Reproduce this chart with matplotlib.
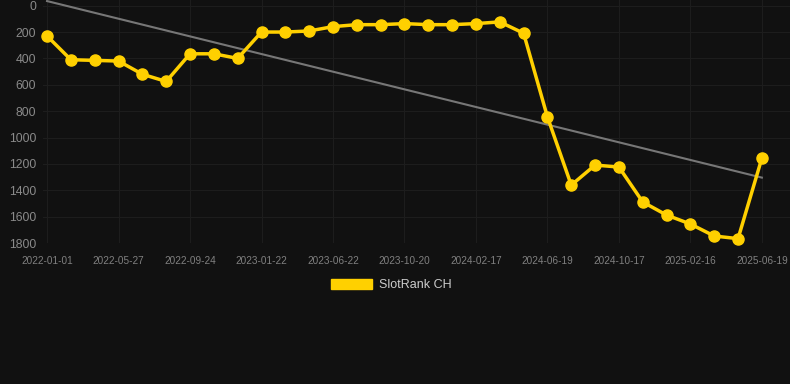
import matplotlib
matplotlib.use("Agg")
import matplotlib.pyplot as plt
import numpy as np
from matplotlib.patches import Patch

plt.rcParams['font.family'] = ['Liberation Sans', 'DejaVu Sans']

tick_labels = ["2022-01-01", "2022-05-27", "2022-09-24", "2023-01-22", "2023-06-22",
               "2023-10-20", "2024-02-17", "2024-06-19", "2024-10-17", "2025-02-16", "2025-06-19"]
ranks = [230, 410, 415, 420, 520, 575, 365, 365, 400, 200,
         200, 192, 159, 144, 144, 136, 144, 144, 136, 123,
         209, 844, 1361, 1209, 1224, 1489, 1588, 1656, 1747, 1767,
         1156]
series_name = "SlotRank CH"

bg = "#111111"
gold = "#FFD000"

fig = plt.figure(figsize=(7.9, 3.84), dpi=100, facecolor=bg)
ax = fig.add_axes([43/790, 1 - 243/384, 747/790, 243/384], facecolor=bg)

x = np.arange(len(ranks))
y = np.array(ranks, dtype=float)

# trend line (linear regression)
coef = np.polyfit(x, y, 1)
ax.plot(x, np.polyval(coef, x), color="#777777", lw=1.5, zorder=2, clip_on=False)

ax.plot(x, y, color=gold, lw=2.5, marker='o', ms=8, mfc=gold, mec=gold, zorder=3, clip_on=False)

ax.set_ylim(1800, -43)
ax.set_xlim(-0.17, 31.18)
ax.set_yticks(np.arange(0, 1801, 200))
ax.set_xticks(x[::3])
ax.set_xticklabels(tick_labels)

ax.grid(True, color="#1d1d1d", lw=0.8)
ax.set_axisbelow(True)
for s in ax.spines.values():
    s.set_visible(False)
ax.tick_params(axis='both', length=0, colors="#808080")
ax.tick_params(axis='y', labelsize=8.8, pad=5)
ax.tick_params(axis='x', labelsize=7.2, pad=9)
for lab in ax.get_yticklabels():
    lab.set_color("#8a8a8a")

handle = Patch(facecolor=gold, edgecolor=gold)
fig.legend([handle], [series_name], loc='center', bbox_to_anchor=(391/790, 1 - 285/384),
           frameon=False, fontsize=9, labelcolor="#cccccc",
           handlelength=3.3, handleheight=0.95, handletextpad=0.55)

fig.savefig("out.png", dpi=100, facecolor=bg)
